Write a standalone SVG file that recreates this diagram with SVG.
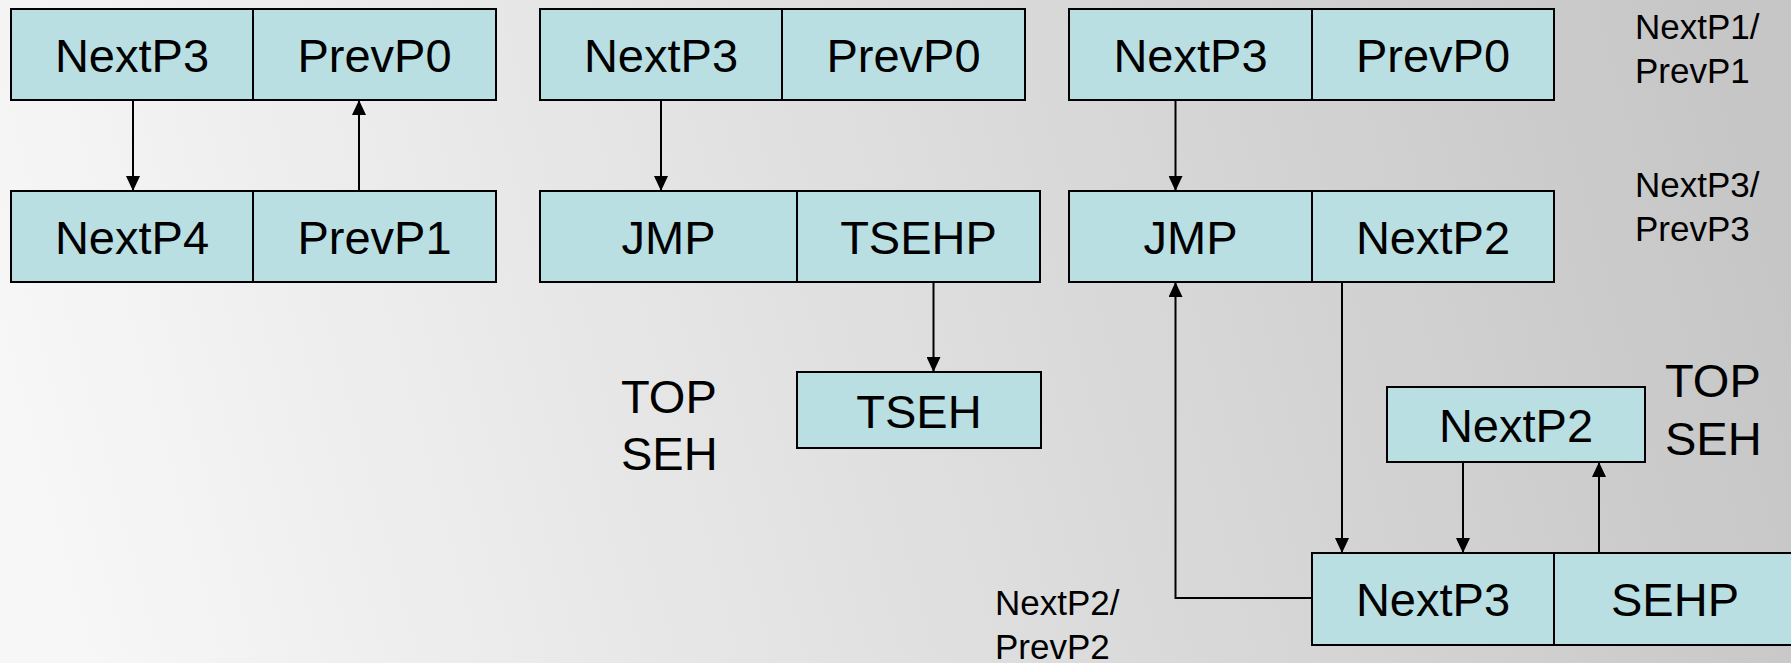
<svg xmlns="http://www.w3.org/2000/svg" width="1791" height="663" viewBox="0 0 1791 663">
  <defs>
    <linearGradient id="bg" x1="0" y1="0.55" x2="1" y2="0.45">
      <stop offset="0" stop-color="#f7f7f7"/>
      <stop offset="1" stop-color="#c6c6c6"/>
    </linearGradient>
    <marker id="arrow" markerUnits="userSpaceOnUse" markerWidth="15" markerHeight="14" refX="15" refY="7" orient="auto">
      <path d="M0,0 L15,7 L0,14 z" fill="#000"/>
    </marker>
    <style>
      .cell { fill: #b9dfe3; stroke: #000; stroke-width: 2; }
      .lbl { font-family: "Liberation Sans", Arial, sans-serif; font-size: 47px; fill: #000; text-anchor: middle; }
      .note { font-family: "Liberation Sans", Arial, sans-serif; font-size: 47px; fill: #000; }
      .small { font-family: "Liberation Sans", Arial, sans-serif; font-size: 35px; fill: #000; }
      .conn { fill: none; stroke: #000; stroke-width: 2; }
    </style>
  </defs>

  <rect x="0" y="0" width="1791" height="663" fill="url(#bg)"/>

  <!-- left pair -->
  <g id="left-top">
    <rect class="cell" x="11" y="9" width="242" height="91"/>
    <rect class="cell" x="253" y="9" width="243" height="91"/>
    <text class="lbl" x="132" y="72">NextP3</text>
    <text class="lbl" x="374.5" y="72">PrevP0</text>
  </g>
  <g id="left-bottom">
    <rect class="cell" x="11" y="191" width="242" height="91"/>
    <rect class="cell" x="253" y="191" width="243" height="91"/>
    <text class="lbl" x="132" y="254">NextP4</text>
    <text class="lbl" x="374.5" y="254">PrevP1</text>
  </g>

  <!-- middle chain -->
  <g id="mid-top">
    <rect class="cell" x="540" y="9" width="242" height="91"/>
    <rect class="cell" x="782" y="9" width="243" height="91"/>
    <text class="lbl" x="661" y="72">NextP3</text>
    <text class="lbl" x="903.5" y="72">PrevP0</text>
  </g>
  <g id="mid-jmp">
    <rect class="cell" x="540" y="191" width="257" height="91"/>
    <rect class="cell" x="797" y="191" width="243" height="91"/>
    <text class="lbl" x="668.5" y="254">JMP</text>
    <text class="lbl" x="918.5" y="254">TSEHP</text>
  </g>
  <g id="mid-tseh">
    <rect class="cell" x="797" y="372" width="244" height="76"/>
    <text class="lbl" x="919" y="428">TSEH</text>
  </g>
  <g id="mid-top-seh">
    <text class="note" x="621" y="413">TOP</text>
    <text class="note" x="621" y="470">SEH</text>
  </g>

  <!-- right chain -->
  <g id="right-top">
    <rect class="cell" x="1069" y="9" width="243" height="91"/>
    <rect class="cell" x="1312" y="9" width="242" height="91"/>
    <text class="lbl" x="1190.5" y="72">NextP3</text>
    <text class="lbl" x="1433" y="72">PrevP0</text>
  </g>
  <g id="right-jmp">
    <rect class="cell" x="1069" y="191" width="243" height="91"/>
    <rect class="cell" x="1312" y="191" width="242" height="91"/>
    <text class="lbl" x="1190.5" y="254">JMP</text>
    <text class="lbl" x="1433" y="254">NextP2</text>
  </g>
  <g id="right-nextp2">
    <rect class="cell" x="1387" y="387" width="258" height="75"/>
    <text class="lbl" x="1516" y="442">NextP2</text>
  </g>
  <g id="right-sehp">
    <rect class="cell" x="1312" y="553" width="242" height="92"/>
    <rect class="cell" x="1554" y="553" width="242" height="92"/>
    <text class="lbl" x="1433" y="616">NextP3</text>
    <text class="lbl" x="1675" y="616">SEHP</text>
  </g>
  <g id="right-top-seh">
    <text class="note" x="1665" y="397">TOP</text>
    <text class="note" x="1665" y="455">SEH</text>
  </g>

  <!-- side notes -->
  <g id="note-p1">
    <text class="small" x="1635" y="39">NextP1/</text>
    <text class="small" x="1635" y="83">PrevP1</text>
  </g>
  <g id="note-p3">
    <text class="small" x="1635" y="197">NextP3/</text>
    <text class="small" x="1635" y="241">PrevP3</text>
  </g>
  <g id="note-p2">
    <text class="small" x="995" y="615">NextP2/</text>
    <text class="small" x="995" y="659">PrevP2</text>
  </g>

  <!-- links -->
  <g id="connectors">
    <line class="conn" x1="133" y1="100" x2="133" y2="191" marker-end="url(#arrow)"/>
    <line class="conn" x1="359" y1="191" x2="359" y2="100" marker-end="url(#arrow)"/>
    <line class="conn" x1="661" y1="100" x2="661" y2="191" marker-end="url(#arrow)"/>
    <line class="conn" x1="933.5" y1="282" x2="933.5" y2="372" marker-end="url(#arrow)"/>
    <line class="conn" x1="1175.5" y1="100" x2="1175.5" y2="191" marker-end="url(#arrow)"/>
    <line class="conn" x1="1342" y1="282" x2="1342" y2="553" marker-end="url(#arrow)"/>
    <polyline class="conn" points="1312,598 1175.5,598 1175.5,282" marker-end="url(#arrow)"/>
    <line class="conn" x1="1463" y1="462" x2="1463" y2="553" marker-end="url(#arrow)"/>
    <line class="conn" x1="1599" y1="553" x2="1599" y2="462" marker-end="url(#arrow)"/>
  </g>
</svg>
